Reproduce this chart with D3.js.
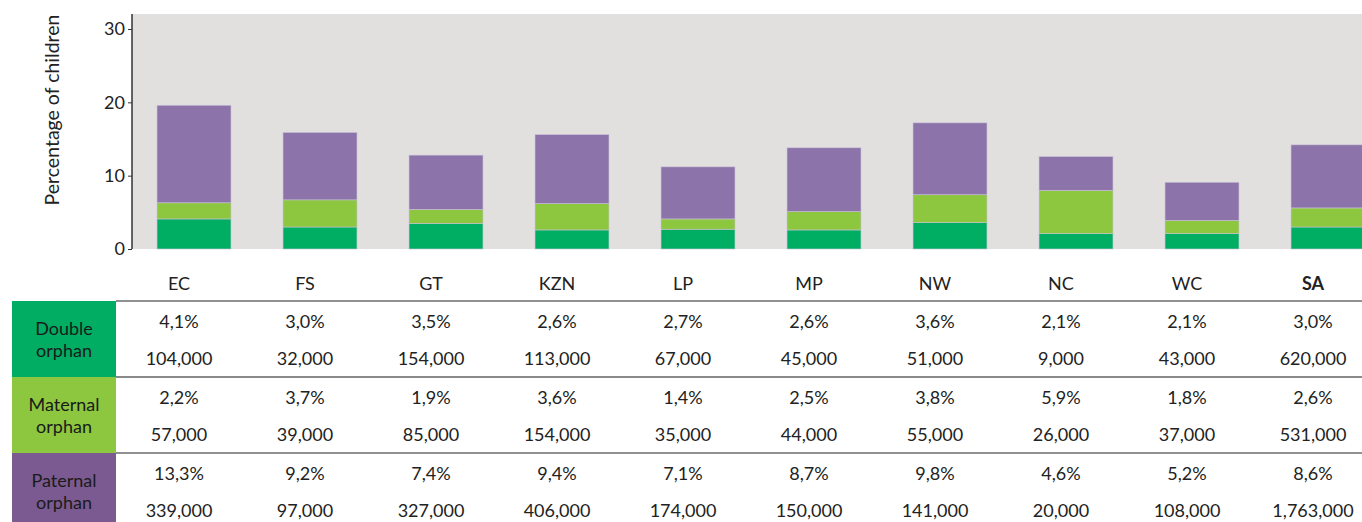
<!DOCTYPE html>
<html lang="en">
<head>
  <meta charset="UTF-8">
  <title>Orphans by province</title>
  <script src="https://d3js.org/d3.v7.min.js" charset="utf-8"></script>
  <style>
    body { margin: 0; background: #fff; }
    svg { display: block; font-family: Lato, "Noto Sans", sans-serif; }
  </style>
</head>
<body>
  <svg id="chart"></svg>
  <script>
    const provinces = ["EC", "FS", "GT", "KZN", "LP", "MP", "NW", "NC", "WC", "SA"];
    const doublePct   = [4.1, 3.0, 3.5, 2.6, 2.7, 2.6, 3.6, 2.1, 2.1, 3.0];
    const maternalPct = [2.2, 3.7, 1.9, 3.6, 1.4, 2.5, 3.8, 5.9, 1.8, 2.6];
    const paternalPct = [13.3, 9.2, 7.4, 9.4, 7.1, 8.7, 9.8, 4.6, 5.2, 8.6];
    const doubleNum   = [104000, 32000, 154000, 113000, 67000, 45000, 51000, 9000, 43000, 620000];
    const maternalNum = [57000, 39000, 85000, 154000, 35000, 44000, 55000, 26000, 37000, 531000];
    const paternalNum = [339000, 97000, 327000, 406000, 174000, 150000, 141000, 20000, 108000, 1763000];
    const yTicks = [0, 10, 20, 30];

    const series = [
      {key: "double",   label: ["Double", "orphan"],   pct: doublePct,   num: doubleNum,   bar: "#00ae63", head: "#00ad63"},
      {key: "maternal", label: ["Maternal", "orphan"], pct: maternalPct, num: maternalNum, bar: "#8dc63f", head: "#8dc63f"},
      {key: "paternal", label: ["Paternal", "orphan"], pct: paternalPct, num: paternalNum, bar: "#8c74ab", head: "#7b5a91"}
    ];

    const W = 1362, H = 522;
    const plot = {left: 132, right: W, top: 14, bottom: 249};
    const textShift = -15; // labels and table sit a little left of the bar centres

    const svg = d3.select("#chart").attr("width", W).attr("height", H);

    const x = d3.scaleBand().domain(provinces)
      .range([131, 1391]).paddingInner(0.413).paddingOuter(0.2065);
    const y = d3.scaleLinear().domain([0, 30]).range([plot.bottom, 29]);
    const cx = d => x(d) + x.bandwidth() / 2 + textShift;

    // plot background
    svg.append("rect")
      .attr("x", plot.left).attr("y", plot.top)
      .attr("width", plot.right - plot.left).attr("height", plot.bottom - plot.top)
      .attr("fill", "#e1e0df");

    // stacked bars
    const rows = provinces.map((p, i) => ({p, double: doublePct[i], maternal: maternalPct[i], paternal: paternalPct[i]}));
    const stack = d3.stack().keys(series.map(s => s.key))(rows);

    svg.append("g").selectAll("g").data(stack).join("g")
      .attr("fill", (d, i) => series[i].bar)
      .selectAll("rect").data(d => d).join("rect")
        .attr("x", d => x(d.data.p))
        .attr("width", x.bandwidth())
        .attr("y", d => y(d[1]))
        .attr("height", d => y(d[0]) - y(d[1]))
        .attr("stroke", "#c9c2d6").attr("stroke-width", 0.6);

    // y axis
    const yAxis = d3.axisLeft(y).tickValues(yTicks).tickSize(4).tickPadding(3);
    const ya = svg.append("g").attr("transform", `translate(${plot.left},0)`).call(yAxis);
    ya.select(".domain").remove();
    ya.selectAll("line").attr("stroke", "#333");
    ya.selectAll("text").attr("font-size", 18).attr("fill", "#222").attr("font-family", "Lato, sans-serif");
    svg.append("line").attr("x1", plot.left).attr("x2", plot.left)
      .attr("y1", plot.top).attr("y2", plot.bottom).attr("stroke", "#333").attr("stroke-width", 1.5);

    svg.append("text")
      .attr("transform", `translate(59,110) rotate(-90)`)
      .attr("text-anchor", "middle").attr("font-size", 19.5).attr("fill", "#222")
      .text("Percentage of children");

    // category labels
    svg.append("g").selectAll("text").data(provinces).join("text")
      .attr("x", cx).attr("y", 290)
      .attr("text-anchor", "middle").attr("font-size", 18).attr("fill", "#222")
      .attr("font-weight", d => d === "SA" ? "bold" : "normal")
      .text(d => d);

    // table
    const rowTop = [301, 377, 453], rowH = 76;
    const fmt = d3.format(",");
    const pctFmt = v => v.toFixed(1).replace(".", ",") + "%";

    series.forEach((s, r) => {
      const top = rowTop[r];
      svg.append("rect").attr("x", 12).attr("y", top).attr("width", 104)
        .attr("height", Math.min(rowH, H - top)).attr("fill", s.head);
      svg.append("text").attr("x", 64).attr("y", top + 34).attr("text-anchor", "middle")
        .attr("font-size", 18).attr("fill", "#1a1a1a")
        .selectAll("tspan").data(s.label).join("tspan")
          .attr("x", 64).attr("dy", (d, i) => i ? 22 : 0).text(d => d);

      const g = svg.append("g");
      g.selectAll("text.pct").data(provinces).join("text").attr("class", "pct")
        .attr("x", cx).attr("y", top + 27)
        .attr("text-anchor", "middle").attr("font-size", 18).attr("fill", "#222")
        .text((d, i) => pctFmt(s.pct[i]));
      g.selectAll("text.num").data(provinces).join("text").attr("class", "num")
        .attr("x", cx).attr("y", top + 64)
        .attr("text-anchor", "middle").attr("font-size", 18).attr("fill", "#222")
        .text((d, i) => fmt(s.num[i]));
    });

    // row rules
    svg.append("line").attr("x1", 116).attr("x2", W).attr("y1", 301).attr("y2", 301)
      .attr("stroke", "#222").attr("stroke-width", 1.2);
    svg.append("line").attr("x1", 116).attr("x2", W).attr("y1", 377).attr("y2", 377)
      .attr("stroke", "#8a8a8a").attr("stroke-width", 2);
    svg.append("line").attr("x1", 116).attr("x2", W).attr("y1", 453).attr("y2", 453)
      .attr("stroke", "#222").attr("stroke-width", 1.2);
  </script>
</body>
</html>
